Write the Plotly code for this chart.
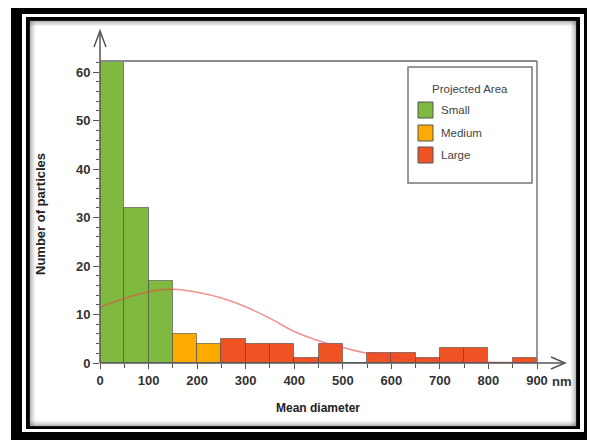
import plotly.graph_objects as go

# ---- data ----
bin_start = [0, 50, 100, 150, 200, 250, 300, 350, 400, 450, 500, 550, 600, 650, 700, 750, 800, 850]
counts = [62, 32, 17, 6, 4, 5, 4, 4, 1, 4, 0, 2, 2, 1, 3, 3, 0, 1]
size_class = ["Small", "Small", "Small", "Medium", "Medium",
              "Large", "Large", "Large", "Large", "Large", "Large", "Large",
              "Large", "Large", "Large", "Large", "Large", "Large"]
classes = ["Small", "Medium", "Large"]
class_colors = {"Small": "#80b940", "Medium": "#ffaa00", "Large": "#f05323"}
bin_width = 50

curve_x = [0, 50, 100, 150, 200, 250, 300, 350, 400, 450, 500, 550, 600, 650, 700, 750, 800, 850, 900]
curve_y = [11.5, 13.3, 14.7, 15.2, 14.6, 13.4, 11.6, 9.2, 6.5, 4.6, 3.2, 2.0, 1.3, 0.8, 0.5, 0.3, 0.15, 0.1, 0.05]

x_ticks = [0, 100, 200, 300, 400, 500, 600, 700, 800, 900]
y_ticks = [0, 10, 20, 30, 40, 50, 60]

# ---- layout geometry (page pixels) ----
W, H = 595, 443
OFF = 8  # page body margin offset
L, R, T, B = 100, 537, 61, 363


def px(x):
    return (x - L) / (R - L)


def py(y):
    return (B - y) / (B - T)


fig = go.Figure()

for c in classes:
    xs = [b for b, s in zip(bin_start, size_class) if s == c]
    ys = [v for v, s in zip(counts, size_class) if s == c]
    fig.add_trace(go.Bar(
        x=xs, y=ys, width=bin_width, offset=0, name=c,
        marker=dict(color=class_colors[c], line=dict(color="rgba(60,60,60,0.55)", width=1)),
        showlegend=False,
    ))

fig.add_trace(go.Scatter(
    x=curve_x, y=curve_y, mode="lines", line=dict(color="rgba(235,70,70,0.6)", width=1.5, shape="spline"),
    showlegend=False, hoverinfo="skip",
))

shapes = []


def rect(x0, y0, x1, y1, fill, layer="below", line=None):
    d = dict(type="rect", xref="paper", yref="paper", x0=px(x0), x1=px(x1), y0=py(y0), y1=py(y1),
             fillcolor=fill, layer=layer, line=dict(width=0))
    if line:
        d["line"] = line
    shapes.append(d)


def seg(x0, y0, x1, y1, color, width, layer="above"):
    shapes.append(dict(type="line", xref="paper", yref="paper", x0=px(x0), x1=px(x1), y0=py(y0), y1=py(y1),
                       line=dict(color=color, width=width), layer=layer))


# frame
rect(11, 4, 589, 440, "black")
rect(22, 14, 584, 432, "white")
rect(26, 17, 580, 429, "black")
rect(30, 21, 576, 426, "white")
# inner shadow
for i, a in enumerate([0.45, 0.3, 0.18, 0.08]):
    o = 30 + i * 1.5
    col = f"rgba(80,80,80,{a})"
    seg(o, 21, o, 426, col, 1.5, "below")
    seg(576 - i * 1.5, 21, 576 - i * 1.5, 426, col, 1.5, "below")
    seg(30, 21 + i * 1.5, 576, 21 + i * 1.5, col, 1.5, "below")
    seg(30, 426 - i * 1.5, 576, 426 - i * 1.5, col, 1.5, "below")

# plot frame (top, right)
seg(L, T, R, T, "#8a8a8a", 2)
seg(R, T, R, B, "#777777", 1.5)
# axes with arrows
seg(L, B, L, 31, "#555555", 1.5)
shapes.append(dict(type="path", xref="paper", yref="paper",
                   path=f"M{px(94)},{py(47)} L{px(L)},{py(31)} L{px(106)},{py(47)}",
                   line=dict(color="#555555", width=1.5)))
seg(L, B, 565, B, "#555555", 1.5)
shapes.append(dict(type="path", xref="paper", yref="paper",
                   path=f"M{px(551)},{py(357)} L{px(565)},{py(B)} L{px(551)},{py(369)}",
                   line=dict(color="#555555", width=1.5)))

# legend box
rect(408, 67, 532, 183, "white", layer="above", line=dict(color="#777777", width=1.5))
legend_rows = {"Small": (102, 118), "Medium": (125, 141), "Large": (147, 163)}
for c in classes:
    y0, y1 = legend_rows[c]
    rect(418, y0, 433, y1, class_colors[c], layer="above", line=dict(color="#555555", width=1))

annotations = [
    dict(text="Projected Area", x=px(470), y=py(89), xref="paper", yref="paper", showarrow=False,
         xanchor="center", yanchor="middle", font=dict(family="Liberation Sans", size=11.5, color="#444444")),
]
for c in classes:
    y0, y1 = legend_rows[c]
    annotations.append(dict(text=c, x=px(439), y=py((y0 + y1) / 2), xref="paper", yref="paper", showarrow=False,
                            xanchor="left", yanchor="middle",
                            font=dict(family="Liberation Sans", size=11.5, color="#444444")))

bold = "Liberation Sans"
annotations += [
    dict(text="nm", x=px(550), y=py(381), xref="paper", yref="paper", showarrow=False, xanchor="left",
         yanchor="middle", font=dict(family=bold, size=13, color="#333333", weight="bold")),
    dict(text="Mean diameter", x=px(318), y=py(408), xref="paper", yref="paper", showarrow=False,
         xanchor="center", yanchor="middle", font=dict(family=bold, size=12, color="#222222", weight="bold")),
    dict(text="Number of particles", x=px(40), y=py(214), xref="paper", yref="paper", showarrow=False,
         textangle=-90, xanchor="center", yanchor="middle",
         font=dict(family=bold, size=13, color="#222222", weight="bold")),
]

tickfont = dict(family=bold, size=13, color="#333333", weight="bold")
fig.update_layout(
    width=W, height=H, autosize=False,
    margin=dict(l=L - OFF, r=W - (R - OFF), t=T - OFF, b=H - (B - OFF), pad=0),
    paper_bgcolor="white", plot_bgcolor="rgba(0,0,0,0)",
    bargap=0, barmode="overlay",
    shapes=shapes, annotations=annotations,
    xaxis=dict(range=[0, 900], tickvals=x_ticks, ticktext=[str(v) for v in x_ticks],
               ticks="outside", ticklen=5, tickwidth=1.2, tickcolor="#555555",
               minor=dict(dtick=50, tick0=0, ticks="outside", ticklen=4, tickcolor="#555555", tickwidth=1),
               showgrid=False, zeroline=False, showline=False, tickfont=tickfont),
    yaxis=dict(range=[0, 62.3], tickvals=y_ticks, ticktext=[str(v) for v in y_ticks],
               ticks="outside", ticklen=6, tickwidth=1.2, tickcolor="#555555",
               minor=dict(dtick=2, tick0=0, ticks="outside", ticklen=3, tickcolor="#555555", tickwidth=1),
               showgrid=False, zeroline=False, showline=False, tickfont=tickfont),
)

fig.write_html("out.html")
